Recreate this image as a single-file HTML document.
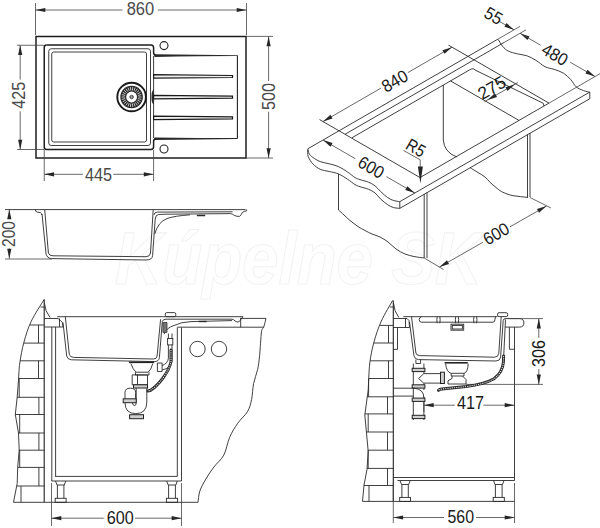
<!DOCTYPE html><html><head><meta charset="utf-8"><style>
*{margin:0;padding:0}
html,body{width:600px;height:528px;background:#fff;overflow:hidden}
svg{display:block}
.m{fill:none;stroke:#222;stroke-width:1.1}
.mb{fill:none;stroke:#1e1e1e;stroke-width:1.5}
.t{fill:none;stroke:#2a2a2a;stroke-width:0.9}
.d{fill:none;stroke:#444;stroke-width:0.8}
.hl{fill:none;stroke:#9a9a9a;stroke-width:0.8}
.wl{fill:none;stroke:#e8e8e8;stroke-width:0.8}
.hose{fill:none;stroke:#333;stroke-width:1.3;stroke-dasharray:1.2 0.6}
.ar{fill:#262626;stroke:none}
.groove{fill:#f0f0f0;stroke:#1a1a1a;stroke-width:1.25}
.fillk{fill:#2a2a2a;stroke:none}
.thk{fill:none;stroke:#222;stroke-width:1.6}
.fillk2b{fill:#777;stroke:#222;stroke-width:0.7}
.nut{fill:#cfcfcf;stroke:#222;stroke-width:1}
.hoseo{fill:none;stroke:#2a2a2a;stroke-width:3;stroke-linecap:round}
.hosei{fill:none;stroke:#ddd;stroke-width:1.1;stroke-dasharray:1.2 1}
.hose2{fill:none;stroke:#2a2a2a;stroke-width:0.9}
.fillk2{fill:#6a6a6a;stroke:#222;stroke-width:0.8}
.tx{font-family:"Liberation Sans",sans-serif;fill:#1a1a1a}
.tg{font-family:"Liberation Sans",sans-serif;fill:#4a4a4a}
</style></head><body><svg width="600" height="528" viewBox="0 0 600 528">
<text x="115" y="284" font-size="74" font-family="Liberation Sans" font-weight="bold" font-style="italic" fill="none" stroke="#f2f2f2" stroke-width="1.1" textLength="367" lengthAdjust="spacingAndGlyphs">Kúpelne SK</text>
<line class="d" x1="35.5" y1="3" x2="35.5" y2="35"/>
<line class="d" x1="246.5" y1="3" x2="246.5" y2="35"/>
<line class="d" x1="35.5" y1="10" x2="122.5" y2="10"/>
<line class="d" x1="157.9" y1="10" x2="246.5" y2="10"/>
<path class="ar" d="M35.5,10 L45.3,7.9 L45.3,12.1 Z"/>
<path class="ar" d="M246.5,10 L236.7,12.1 L236.7,7.9 Z"/>
<text class="tg" x="0" y="6.3" font-size="17.5" text-anchor="middle" transform="translate(140.45 9.15) rotate(0)" textLength="27.5" lengthAdjust="spacingAndGlyphs">860</text>
<path class="mb" d="M36,36.4 H246 V158 H36 Z"/>
<path class="mb" d="M46.5,45 H151 Q153.6,45 153.6,47.8 V52.5 Q153.6,55.4 156.5,55.4"/>
<path class="mb" d="M156.5,138.6 Q153.6,138.6 153.6,141.5 V146.8 Q153.6,149.5 151,149.5 H46.5 Q44.25,149.5 44.25,147 V47.5 Q44.25,45 46.5,45"/>
<path class="fillk" d="M154.5,54.2 Q200,54.6 237.4,55.3 L237.4,56.1 Q200,56.3 154.5,56.9 Z"/>
<path class="fillk" d="M154.5,137.4 Q200,137.9 237.4,138.1 L237.4,139 Q200,139.4 154.5,140.1 Z"/>
<line class="m" x1="237.4" y1="55.4" x2="237.4" y2="138.6"/>
<line class="t" x1="153.6" y1="56" x2="153.6" y2="138"/>
<path class="fillk" d="M153.8,89.5 Q151.2,91 151.5,97 Q151.2,103 153.8,104.5 Z"/>
<rect class="t" x="48.75" y="48.75" width="101.75" height="96.75" rx="2.5"/>
<rect class="t" x="51.75" y="52" width="94.75" height="90" rx="2"/>
<path class="groove" d="M153.6,74.7 L232.5,75.5 L232.5,77.5 L153.6,78.1 Z"/>
<path class="groove" d="M153.6,95.4 L232.5,96.2 L232.5,98.2 L153.6,98.8 Z"/>
<path class="groove" d="M153.6,116.1 L232.5,116.9 L232.5,118.9 L153.6,119.5 Z"/>
<circle class="m" cx="164" cy="45.6" r="4"/>
<circle class="m" cx="164" cy="149" r="4"/>
<circle cx="131.6" cy="97" r="14.3" fill="none" stroke="#1a1a1a" stroke-width="1.9"/>
<circle cx="131.6" cy="97" r="11.3" fill="#2a2a2a"/>
<circle cx="131.6" cy="97" r="5.4" fill="#fff"/>
<line class="wl" x1="138.2" y1="97" x2="141.6" y2="97"/>
<line class="wl" x1="138.01" y1="98.58" x2="141.31" y2="99.39"/>
<line class="wl" x1="137.44" y1="100.07" x2="140.45" y2="101.65"/>
<line class="wl" x1="136.54" y1="101.38" x2="139.09" y2="103.63"/>
<line class="wl" x1="135.35" y1="102.43" x2="137.28" y2="105.23"/>
<line class="wl" x1="133.94" y1="103.17" x2="135.15" y2="106.35"/>
<line class="wl" x1="132.4" y1="103.55" x2="132.81" y2="106.93"/>
<line class="wl" x1="130.8" y1="103.55" x2="130.39" y2="106.93"/>
<line class="wl" x1="129.26" y1="103.17" x2="128.05" y2="106.35"/>
<line class="wl" x1="127.85" y1="102.43" x2="125.92" y2="105.23"/>
<line class="wl" x1="126.66" y1="101.38" x2="124.11" y2="103.63"/>
<line class="wl" x1="125.76" y1="100.07" x2="122.75" y2="101.65"/>
<line class="wl" x1="125.19" y1="98.58" x2="121.89" y2="99.39"/>
<line class="wl" x1="125" y1="97" x2="121.6" y2="97"/>
<line class="wl" x1="125.19" y1="95.42" x2="121.89" y2="94.61"/>
<line class="wl" x1="125.76" y1="93.93" x2="122.75" y2="92.35"/>
<line class="wl" x1="126.66" y1="92.62" x2="124.11" y2="90.37"/>
<line class="wl" x1="127.85" y1="91.57" x2="125.92" y2="88.77"/>
<line class="wl" x1="129.26" y1="90.83" x2="128.05" y2="87.65"/>
<line class="wl" x1="130.8" y1="90.45" x2="130.39" y2="87.07"/>
<line class="wl" x1="132.4" y1="90.45" x2="132.81" y2="87.07"/>
<line class="wl" x1="133.94" y1="90.83" x2="135.15" y2="87.65"/>
<line class="wl" x1="135.35" y1="91.57" x2="137.28" y2="88.77"/>
<line class="wl" x1="136.54" y1="92.62" x2="139.09" y2="90.37"/>
<line class="wl" x1="137.44" y1="93.93" x2="140.45" y2="92.35"/>
<line class="wl" x1="138.01" y1="95.42" x2="141.31" y2="94.61"/>
<circle class="t" cx="131.6" cy="97" r="1.7"/>
<line class="t" x1="130" y1="97" x2="133.2" y2="97"/>
<line class="d" x1="17" y1="45.25" x2="44" y2="45.25"/>
<line class="d" x1="17" y1="149.5" x2="44" y2="149.5"/>
<line class="d" x1="20.2" y1="45.25" x2="20.2" y2="79.55"/>
<line class="d" x1="20.2" y1="111.25" x2="20.2" y2="149.5"/>
<path class="ar" d="M20.2,45.25 L22.3,55.05 L18.1,55.05 Z"/>
<path class="ar" d="M20.2,149.5 L18.1,139.7 L22.3,139.7 Z"/>
<text class="tg" x="0" y="6.3" font-size="17.5" text-anchor="middle" transform="translate(18.9 95.3) rotate(-90)" textLength="27" lengthAdjust="spacingAndGlyphs">425</text>
<line class="d" x1="246" y1="36.4" x2="273" y2="36.4"/>
<line class="d" x1="246" y1="158" x2="273" y2="158"/>
<line class="d" x1="268.6" y1="36.4" x2="268.6" y2="81"/>
<line class="d" x1="268.6" y1="111.7" x2="268.6" y2="158"/>
<path class="ar" d="M268.6,36.4 L270.7,46.2 L266.5,46.2 Z"/>
<path class="ar" d="M268.6,158 L266.5,148.2 L270.7,148.2 Z"/>
<text class="tg" x="0" y="6.3" font-size="17.5" text-anchor="middle" transform="translate(268.5 96.5) rotate(-90)" textLength="27" lengthAdjust="spacingAndGlyphs">500</text>
<line class="d" x1="44.25" y1="150" x2="44.25" y2="181"/>
<line class="d" x1="153.6" y1="150" x2="153.6" y2="181"/>
<line class="d" x1="44.25" y1="174.3" x2="82.85" y2="174.3"/>
<line class="d" x1="113.25" y1="174.3" x2="153.6" y2="174.3"/>
<path class="ar" d="M44.25,174.3 L54.05,172.2 L54.05,176.4 Z"/>
<path class="ar" d="M153.6,174.3 L143.8,176.4 L143.8,172.2 Z"/>
<text class="tg" x="0" y="6.3" font-size="17.5" text-anchor="middle" transform="translate(98.5 174.2) rotate(0)" textLength="27" lengthAdjust="spacingAndGlyphs">445</text>
<line class="t" x1="5" y1="209.6" x2="245.6" y2="209.6"/>
<line class="d" x1="5" y1="259" x2="52" y2="259"/>
<line class="d" x1="9.3" y1="209.5" x2="9.3" y2="219"/>
<line class="d" x1="9.3" y1="248.5" x2="9.3" y2="258.6"/>
<path class="ar" d="M9.3,209.5 L11.4,219.3 L7.2,219.3 Z"/>
<path class="ar" d="M9.3,258.6 L7.2,248.8 L11.4,248.8 Z"/>
<text class="tg" x="0" y="6.3" font-size="17.5" text-anchor="middle" transform="translate(9 234) rotate(-90)" textLength="26" lengthAdjust="spacingAndGlyphs">200</text>
<path class="t" d="M35.5,209.6 Q35,211.6 37.5,212.2 L40.5,212.6 Q41.6,213.2 41.8,215"/>
<path class="t" d="M42,214 L46,253.5 Q47,258.3 51.5,258.6 L146,260 Q152.2,260 152.6,255.6 L155.2,219 Q155.5,214.8 158.5,214.5 L166,214.2"/>
<path class="t" d="M44.7,209.6 L48.4,253 Q49.2,255.8 53,255.8 L146,256.7 Q150.1,256.7 150.5,253 L153.2,209.8"/>
<path class="t" d="M153.8,215 Q154.2,212.2 157.5,212.1 L232.6,211.8"/>
<path class="t" d="M166,214.2 L230.8,213.6 Q233,214.2 234.3,215.4 Q237,216.8 239.6,216.3 Q241.5,215 242.2,212.6 Q244,211 246.6,210.9 L246.6,209.6"/>
<path class="t" d="M154.7,234 Q158,222 167,218.5 Q174,216 190,214.8"/>
<path class="fillk" d="M196.7,214.8 L205.4,214.8 L205,216.3 L197.1,216.3 Z"/>
<path class="t" d="M44.2,299.4 C42.04,303.04 34.62,314.15 31.25,321.25 C27.88,328.35 25.91,335.04 24,342 C22.09,348.96 20.72,356.67 19.8,363 C18.88,369.33 18.72,377.17 18.5,380"/>
<polyline class="t" points="18.5,380 17.2,397 15.3,414.5 18.5,433 19.2,450 17.7,467.4 17.2,483.4 13.5,502.3"/>
<line class="m" x1="44.2" y1="299.4" x2="44.2" y2="502.3"/>
<line class="t" x1="29.94" y1="325" x2="44.2" y2="325"/>
<line class="t" x1="23.78" y1="343.1" x2="44.2" y2="343.1"/>
<line class="t" x1="20.24" y1="360.8" x2="44.2" y2="360.8"/>
<line class="t" x1="18.61" y1="378.5" x2="44.2" y2="378.5"/>
<line class="t" x1="17.17" y1="397.3" x2="44.2" y2="397.3"/>
<line class="t" x1="15.3" y1="414.5" x2="44.2" y2="414.5"/>
<line class="t" x1="18.5" y1="433" x2="44.2" y2="433"/>
<line class="t" x1="19.18" y1="450.2" x2="44.2" y2="450.2"/>
<line class="t" x1="17.7" y1="467.4" x2="44.2" y2="467.4"/>
<line class="t" x1="16.69" y1="486" x2="44.2" y2="486"/>
<line class="t" x1="38.5" y1="325" x2="38.5" y2="343.1"/>
<line class="t" x1="38.5" y1="360.8" x2="38.5" y2="378.5"/>
<line class="t" x1="19.2" y1="378.5" x2="19.2" y2="397.3"/>
<line class="t" x1="38.9" y1="397.3" x2="38.9" y2="414.5"/>
<line class="t" x1="19.7" y1="414.5" x2="19.7" y2="433"/>
<line class="t" x1="38.9" y1="433" x2="38.9" y2="450.2"/>
<line class="t" x1="19.7" y1="450.2" x2="19.7" y2="467.4"/>
<line class="t" x1="38.9" y1="467.4" x2="38.9" y2="486"/>
<line class="t" x1="21" y1="486" x2="21" y2="502.3"/>
<path class="t" d="M44.4,303 L46,310.5 L50,317.5"/>
<line class="t" x1="13.5" y1="502.3" x2="198" y2="502.3"/>
<line class="t" x1="51.8" y1="327" x2="51.8" y2="481"/>
<line class="t" x1="55.6" y1="327" x2="55.6" y2="476.4"/>
<line class="t" x1="177.3" y1="327.5" x2="177.3" y2="476.4"/>
<line class="t" x1="181.5" y1="327.5" x2="181.5" y2="481"/>
<line class="t" x1="55.2" y1="476.4" x2="177.3" y2="476.4"/>
<line class="t" x1="51.5" y1="481" x2="181.5" y2="481"/>
<path class="t" d="M55.5,481 L57,485 H64.3 L65.8,481"/>
<line class="t" x1="57.4" y1="485" x2="57.4" y2="498.3"/>
<line class="t" x1="63.9" y1="485" x2="63.9" y2="498.3"/>
<rect class="t" x="55.2" y="498.3" width="10.9" height="4"/>
<path class="t" d="M166.7,481 L168.2,485 H175.8 L177.3,481"/>
<line class="t" x1="168.6" y1="485" x2="168.6" y2="498.3"/>
<line class="t" x1="175.4" y1="485" x2="175.4" y2="498.3"/>
<rect class="t" x="166.4" y="498.3" width="11.2" height="4"/>
<line class="d" x1="51.5" y1="483" x2="51.5" y2="526"/>
<line class="d" x1="181.5" y1="483" x2="181.5" y2="526"/>
<line class="d" x1="51.5" y1="518.2" x2="103.75" y2="518.2"/>
<line class="d" x1="135" y1="518.2" x2="181.5" y2="518.2"/>
<path class="ar" d="M51.5,518.2 L61.3,516.1 L61.3,520.3 Z"/>
<path class="ar" d="M181.5,518.2 L171.7,520.3 L171.7,516.1 Z"/>
<text class="tx" x="0" y="6.3" font-size="17.5" text-anchor="middle" transform="translate(120.2 517.5) rotate(0)" textLength="27" lengthAdjust="spacingAndGlyphs">600</text>
<line class="t" x1="57.3" y1="316.7" x2="243" y2="316.7"/>
<path class="t" d="M44.2,318.5 H58 L60.5,320.5 L62.3,322.5 L63,327 H44.2"/>
<line class="t" x1="59.5" y1="318.5" x2="59.5" y2="327"/>
<line class="t" x1="40.6" y1="307" x2="44.2" y2="307"/>
<path class="t" d="M65.3,316.7 L69.3,354.3 Q70,357.3 73.5,357.4 L153.5,359 Q156.8,359 157.1,356 L160.6,319.2"/>
<path class="t" d="M63,322.5 L66.7,356 Q67.6,359.6 71.5,359.8 L154.5,361.6 Q158.9,361.6 159.4,357.5 L162.3,321.5 Q162.8,319.3 166,319.2 L232,319.2 Q234,319.5 235,321 Q237,322.6 239,321.8 Q240.5,320 241.5,318.5 L243,316.7"/>
<path class="t" d="M164.1,334.2 Q166,328 174,325.5 Q181,322 191,321.6 L232,320.6"/>
<path class="fillk" d="M198.7,320.8 H206.6 V322.2 H198.7 Z"/>
<rect class="t" x="165.3" y="312.6" width="10.5" height="4.1" rx="1.5"/>
<path class="fillk2b" d="M162.9,322.5 H167 V332.4 H162.9 Z"/>
<path class="t" d="M240,318.4 H266 M177.4,327.2 H263.7"/>
<line class="t" x1="240.7" y1="318.4" x2="240.7" y2="327.2"/>
<path class="t" d="M266,318.4 C265.62,319.87 264.45,324.97 263.7,327.2 C262.95,329.43 262.18,327.05 261.5,331.8 C260.82,336.55 260.25,349.4 259.6,355.7 C258.95,362 258.6,364.97 257.6,369.6 C256.6,374.23 254.6,378.53 253.6,383.5 C252.6,388.47 252.6,394.75 251.6,399.4 C250.6,404.05 249.92,407.42 247.6,411.4 C245.28,415.38 240.68,419 237.7,423.3 C234.72,427.6 232.02,431.9 229.7,437.2 C227.38,442.5 226.45,450.12 223.8,455.1 C221.15,460.08 216.78,463.12 213.8,467.1 C210.82,471.08 208.22,475.03 205.9,479 C203.58,482.97 201.22,487.02 199.9,490.9 C198.58,494.78 198.32,500.4 198,502.3"/>
<circle class="t" cx="197.5" cy="349" r="7.7"/>
<circle class="t" cx="219" cy="349" r="7.7"/>
<path class="t" d="M168.4,333.5 V338.5 M172,333.5 V338.5 M168.4,344.9 V358 Q168,363.5 162.1,365.5 M172,344.9 V360 Q171.5,368 162.1,370"/>
<rect class="t" x="167.6" y="338.5" width="5.2" height="6.4"/>
<path class="hoseo" d="M171,350 V362 Q169,370 163,378 Q157,386 150.7,390.3 L148,391"/>
<path class="hosei" d="M171,350 V362 Q169,370 163,378 Q157,386 150.7,390.3 L148,391"/>
<path class="t" d="M157.4,363 H162.1 V371.5 H157.4 Z"/>
<path class="thk" d="M128.9,362.3 H154.1"/>
<path class="t" d="M130.9,363.5 Q133,370 136.2,372.2 H148.2 Q151,370 152.8,363.5"/>
<path class="t" d="M135.5,372.2 V375 H149 V372.2"/>
<path class="t" d="M132.2,374.9 H147.5 V384.8 H132.2 Z M137.5,374.9 V384.8"/>
<rect class="nut" x="133.5" y="384.8" width="14" height="3.2"/>
<path class="t" d="M125,400 V392.5 Q125,388.2 130.3,388.2 Q135.6,388.2 135.6,392.5 V400"/>
<path class="t" d="M125,402.7 Q125,413.6 135.8,413.6 Q146.8,413.6 146.8,402 V388"/>
<path class="t" d="M132.5,402.7 Q132.5,405.5 134.5,405.5 Q136.2,405.5 136.2,402.7 V388"/>
<rect class="nut" x="123.2" y="398.8" width="13" height="3.9"/>
<rect class="nut" x="129.6" y="414.7" width="13.9" height="4"/>
<path class="t" d="M392.7,300.4 C390.79,303.88 384.37,314.32 381.25,321.25 C378.13,328.18 375.91,335.04 374,342 C372.09,348.96 370.77,355 369.8,363 C368.83,371 368.47,385.5 368.2,390"/>
<polyline class="t" points="368.2,390 364.8,415 366.5,433 368.2,451.4 367,469.5 364,485 362.5,501.4"/>
<line class="m" x1="393.3" y1="300.4" x2="393.3" y2="501.4"/>
<line class="t" x1="379.8" y1="325.4" x2="393.3" y2="325.4"/>
<line class="t" x1="373.8" y1="343" x2="393.3" y2="343"/>
<line class="t" x1="370.24" y1="360.8" x2="393.3" y2="360.8"/>
<line class="t" x1="368.88" y1="378.5" x2="393.3" y2="378.5"/>
<line class="t" x1="367.28" y1="396.8" x2="393.3" y2="396.8"/>
<line class="t" x1="364.95" y1="413.9" x2="393.3" y2="413.9"/>
<line class="t" x1="366.41" y1="432" x2="393.3" y2="432"/>
<line class="t" x1="368.09" y1="450.2" x2="393.3" y2="450.2"/>
<line class="t" x1="367.07" y1="468.4" x2="393.3" y2="468.4"/>
<line class="t" x1="363.95" y1="485.5" x2="393.3" y2="485.5"/>
<line class="t" x1="388.5" y1="325.4" x2="388.5" y2="343"/>
<line class="t" x1="388.5" y1="360.8" x2="388.5" y2="378.5"/>
<line class="t" x1="368.6" y1="378.5" x2="368.6" y2="396.8"/>
<line class="t" x1="387.5" y1="396.8" x2="387.5" y2="413.9"/>
<line class="t" x1="368.2" y1="413.9" x2="368.2" y2="432"/>
<line class="t" x1="387.5" y1="432" x2="387.5" y2="450.2"/>
<line class="t" x1="368.2" y1="450.2" x2="368.2" y2="468.4"/>
<line class="t" x1="387.5" y1="468.4" x2="387.5" y2="485.5"/>
<line class="t" x1="369" y1="485.5" x2="369" y2="501.4"/>
<path class="t" d="M393.5,303 L395,310.5 L398.8,317.5"/>
<line class="t" x1="362.5" y1="501.4" x2="515" y2="501.4"/>
<path class="t" d="M393.3,318.5 H407 L409,320.5 L409.5,327.5 H393.3"/>
<line class="t" x1="405.5" y1="318.5" x2="405.5" y2="327.5"/>
<line class="t" x1="389.8" y1="307" x2="393.3" y2="307"/>
<path class="t" d="M397.5,327.5 V349.4 H393.3"/>
<line class="t" x1="514.5" y1="327.1" x2="514.5" y2="480.5"/>
<path class="t" d="M509.4,327.1 V349.3 H514.5"/>
<path class="t" d="M505.1,318.6 H519.5 Q523.9,318.6 523.9,323 Q523.9,327.1 519.5,327.1 H505.1"/>
<line class="t" x1="393.3" y1="477.5" x2="514.5" y2="477.5"/>
<line class="t" x1="397.5" y1="480.5" x2="514.5" y2="480.5"/>
<path class="t" d="M400,480.5 L401.5,484.5 H408.7 L410.2,480.5"/>
<line class="t" x1="401.9" y1="484.5" x2="401.9" y2="497.4"/>
<line class="t" x1="408.3" y1="484.5" x2="408.3" y2="497.4"/>
<rect class="t" x="399.7" y="497.4" width="10.8" height="4"/>
<path class="t" d="M493.5,480.5 L495,484.5 H502.5 L504,480.5"/>
<line class="t" x1="495.4" y1="484.5" x2="495.4" y2="497.4"/>
<line class="t" x1="502.1" y1="484.5" x2="502.1" y2="497.4"/>
<rect class="t" x="493.2" y="497.4" width="11.1" height="4"/>
<line class="d" x1="393.3" y1="483" x2="393.3" y2="523"/>
<line class="d" x1="514.5" y1="483" x2="514.5" y2="523"/>
<line class="d" x1="393.3" y1="517.5" x2="444" y2="517.5"/>
<line class="d" x1="476" y1="517.5" x2="514.5" y2="517.5"/>
<path class="ar" d="M393.3,517.5 L403.1,515.4 L403.1,519.6 Z"/>
<path class="ar" d="M514.5,517.5 L504.7,519.6 L504.7,515.4 Z"/>
<text class="tx" x="0" y="6.3" font-size="17.5" text-anchor="middle" transform="translate(460.75 516.75) rotate(0)" textLength="26.5" lengthAdjust="spacingAndGlyphs">560</text>
<line class="d" x1="423.9" y1="401.5" x2="423.9" y2="412"/>
<line class="d" x1="423.9" y1="405.2" x2="454.9" y2="405.2"/>
<line class="d" x1="483.4" y1="405.2" x2="514.5" y2="405.2"/>
<text class="tx" x="0" y="6.3" font-size="17.5" text-anchor="middle" transform="translate(470.5 403.1) rotate(0)" textLength="27" lengthAdjust="spacingAndGlyphs">417</text>
<path class="ar" d="M423.9,405.2 L433.7,403.1 L433.7,407.3 Z"/>
<path class="ar" d="M514.5,405.2 L504.7,407.3 L504.7,403.1 Z"/>
<line class="d" x1="508.5" y1="318.6" x2="543" y2="318.6"/>
<line class="d" x1="466" y1="384.4" x2="543" y2="384.4"/>
<line class="d" x1="538.8" y1="318.6" x2="538.8" y2="337.9"/>
<line class="d" x1="538.8" y1="369.1" x2="538.8" y2="384.4"/>
<path class="ar" d="M538.8,318.6 L540.9,328.4 L536.7,328.4 Z"/>
<path class="ar" d="M538.8,384.4 L536.7,374.6 L540.9,374.6 Z"/>
<text class="tx" x="0" y="6.3" font-size="17.5" text-anchor="middle" transform="translate(539 353.5) rotate(-90)" textLength="27" lengthAdjust="spacingAndGlyphs">306</text>
<line class="t" x1="403.3" y1="316.7" x2="497.5" y2="316.7"/>
<rect class="t" x="497.5" y="312.7" width="10.2" height="3.9" rx="1.6"/>
<path class="t" d="M409.5,322 L413.9,355.5 Q414.6,359.5 418.5,359.6 L496,361 Q500.2,361 500.6,357 L503.2,320.5 Q503.6,318.6 505.3,318.6"/>
<path class="t" d="M411.5,316.7 L415.9,353 Q416.5,355.6 419.5,355.6 L494.5,357.2 Q498.4,357.2 498.8,353.3 L501.2,316.7"/>
<path class="t" d="M421.5,316.7 Q419.2,317.5 419.2,319.5 Q419.2,322.2 421.5,322.2 H493 Q494.9,322 494.9,319.8 L495.5,316.7"/>
<path class="t" d="M437.2,316.7 Q436.5,319.5 437.2,323.3 M439.8,316.7 Q440.5,319.5 439.8,323.3"/>
<path class="t" d="M455.7,316.7 Q455,319.5 455.7,323.3 M458.3,316.7 Q459,319.5 458.3,323.3"/>
<path class="t" d="M474,316.7 Q473.3,319.5 474,323.3 M476.6,316.7 Q477.3,319.5 476.6,323.3"/>
<rect class="t" x="451" y="324.2" width="12.7" height="6" />
<rect class="t" x="452.3" y="325.4" width="10.1" height="3.6" />
<line class="t" x1="505.5" y1="319.5" x2="503.6" y2="358"/>
<path class="hoseo" d="M503.6,356 L503.4,362 Q502.8,372 494,378.8 Q485,384 466,386.6 L442,389 Q438.3,389.6 438.5,390.4"/>
<path class="hosei" d="M503.6,356 L503.4,362 Q502.8,372 494,378.8 Q485,384 466,386.6 L442,389 Q438.3,389.6 438.5,390.4"/>
<path class="thk" d="M444.6,362.8 H467.8"/>
<path class="t" d="M445.6,363.6 Q446.5,372.5 451.2,373.3 H464 Q467.8,372.5 468.2,363.6"/>
<path class="t" d="M451.2,373.3 V376 H464 V373.3"/>
<path class="t" d="M452,376 V378.5 L448,380.8 V384 H466 V379.5 L462.5,376"/>
<path class="t" d="M415.9,359.6 V363.5 H420.6 V359.6"/>
<path class="t" d="M413.3,363.5 V420 M423.9,363.5 V373.6 L418.6,378.5 L423.9,383.3 V390 M423.9,397 V420"/>
<rect class="nut" x="412.2" y="368.3" width="12.7" height="3.3"/>
<rect class="nut" x="412.2" y="384.8" width="12.7" height="3.3"/>
<rect class="nut" x="412.2" y="398.1" width="12.7" height="3.3"/>
<rect class="nut" x="412.2" y="415.3" width="12.7" height="3.3"/>
<path class="t" d="M423.9,373.6 H440.5 M423.9,383.1 H440.5"/>
<rect class="nut" x="440.5" y="372.2" width="3.9" height="11.3"/>
<path class="t" d="M393.3,388.2 H414 Q423.9,389 423.9,398 M393.3,396.1 H413.3"/>
<line class="t" x1="308" y1="148.7" x2="498" y2="39.07"/>
<line class="d" x1="498" y1="39.07" x2="520" y2="26.38"/>
<line class="t" x1="345" y1="134.27" x2="504" y2="42.53"/>
<line class="d" x1="504" y1="42.53" x2="526" y2="29.84"/>
<path class="t" d="M352,137.74 L469.5,69.94 Q473.5,67.5 475,70 L543.3,103.3 L544,106"/>
<line class="t" x1="319.5" y1="119.56" x2="420" y2="177.55"/>
<line class="t" x1="420" y1="177.55" x2="549" y2="103.12"/>
<line class="d" x1="549" y1="103.12" x2="600" y2="73.69"/>
<line class="t" x1="448.5" y1="45.13" x2="549" y2="103.12"/>
<line class="t" x1="450.5" y1="80.9" x2="519" y2="120.43"/>
<line class="t" x1="399.8" y1="201.67" x2="589.8" y2="92.04"/>
<line class="t" x1="399.8" y1="208.37" x2="589.8" y2="98.74"/>
<line class="t" x1="399.8" y1="201.67" x2="399.8" y2="208.37"/>
<line class="t" x1="589.8" y1="92.04" x2="589.8" y2="98.74"/>
<path class="t" d="M307.7,148.8 C307.95,149.62 308.35,152.27 309.2,153.7 C310.05,155.13 310.97,156.08 312.8,157.4 C314.63,158.72 317.45,160.53 320.2,161.6 C322.95,162.67 326.25,162.97 329.3,163.8 C332.35,164.63 335.43,165.22 338.5,166.6 C341.57,167.98 344.95,170.27 347.7,172.1 C350.45,173.93 352.95,176.35 355,177.6 C357.05,178.85 357.78,178.85 360,179.6 C362.22,180.35 365.8,181.07 368.3,182.1 C370.8,183.13 372.92,184.2 375,185.8 C377.08,187.4 378.72,189.75 380.8,191.7 C382.88,193.65 385.42,196.05 387.5,197.5 C389.58,198.95 391.25,199.7 393.3,200.4 C395.35,201.1 398.72,201.48 399.8,201.7"/>
<path class="t" d="M307.7,149.5 C307.78,150.67 307.35,154.12 308.2,156.5 C309.05,158.88 310.8,161.67 312.8,163.8 C314.8,165.93 317.45,168.02 320.2,169.3 C322.95,170.58 326.25,170.73 329.3,171.5 C332.35,172.27 335.43,172.6 338.5,173.9 C341.57,175.2 344.95,177.52 347.7,179.3 C350.45,181.08 352.95,183.37 355,184.6 C357.05,185.83 357.78,185.93 360,186.7 C362.22,187.47 365.8,188.17 368.3,189.2 C370.8,190.23 372.92,191.23 375,192.9 C377.08,194.57 378.72,197.25 380.8,199.2 C382.88,201.15 385.42,203.22 387.5,204.6 C389.58,205.98 391.25,206.87 393.3,207.5 C395.35,208.13 398.72,208.25 399.8,208.4"/>
<path class="t" d="M498.3,39.6 C499.05,40.75 501.13,44.58 502.8,46.5 C504.47,48.42 505.85,49.87 508.3,51.1 C510.75,52.33 514.43,53.13 517.5,53.9 C520.57,54.67 523.63,54.63 526.7,55.7 C529.77,56.77 532.85,58.47 535.9,60.3 C538.95,62.13 541.95,65.18 545,66.7 C548.05,68.22 551.13,68.33 554.2,69.4 C557.27,70.47 560.65,71.42 563.4,73.1 C566.15,74.78 568.57,77.2 570.7,79.5 C572.83,81.8 574.05,85.05 576.2,86.9 C578.35,88.75 581.33,89.7 583.6,90.6 C585.87,91.5 588.77,92.02 589.8,92.3"/>
<line class="t" x1="338.5" y1="174" x2="338.5" y2="210"/>
<path class="t" d="M338.5,210 C339.42,210.83 342.08,213.25 344,215 C345.92,216.75 347.67,218.58 350,220.5 C352.33,222.42 355.5,224.83 358,226.5 C360.5,228.17 362.67,229.25 365,230.5 C367.33,231.75 369.5,232.92 372,234 C374.5,235.08 377.33,235.67 380,237 C382.67,238.33 385.33,240 388,242 C390.67,244 393.17,247 396,249 C398.83,251 402,252.75 405,254 C408,255.25 410.8,255.83 414,256.5 C417.2,257.17 422.5,257.75 424.2,258"/>
<line class="t" x1="424.2" y1="194" x2="424.2" y2="258"/>
<line class="t" x1="427" y1="192.4" x2="427" y2="258"/>
<path class="t" d="M443.3,85 V140 Q444,152 456.7,157"/>
<path class="t" d="M470.2,167.8 C471.5,168.58 475.53,170.97 478,172.5 C480.47,174.03 483,175.37 485,177 C487,178.63 488.17,180.55 490,182.3 C491.83,184.05 494.05,185.93 496,187.5 C497.95,189.07 499.37,190.45 501.7,191.7 C504.03,192.95 507.28,194.23 510,195 C512.72,195.77 515,195.88 518,196.3 C521,196.72 526.33,197.3 528,197.5"/>
<line class="t" x1="527.5" y1="134.5" x2="527.5" y2="197.5"/>
<line class="t" x1="530" y1="133" x2="530" y2="197"/>
<line class="d" x1="323" y1="121.58" x2="380.94" y2="88.15"/>
<line class="d" x1="407.8" y1="72.65" x2="452" y2="47.15"/>
<path class="ar" d="M323,121.58 L330.44,114.86 L332.54,118.5 Z"/>
<path class="ar" d="M452,47.15 L444.56,53.86 L442.46,50.23 Z"/>
<text class="tx" x="0" y="6.3" font-size="17.5" text-anchor="middle" transform="translate(394.6 80.8) rotate(-30)" textLength="27" lengthAdjust="spacingAndGlyphs">840</text>
<line class="d" x1="323" y1="140.04" x2="355.28" y2="158.67"/>
<line class="d" x1="386.46" y1="176.66" x2="414.8" y2="193.01"/>
<path class="ar" d="M323,140.04 L332.54,143.12 L330.44,146.76 Z"/>
<path class="ar" d="M414.8,193.01 L405.26,189.93 L407.36,186.3 Z"/>
<text class="tx" x="0" y="6.3" font-size="17.5" text-anchor="middle" transform="translate(371.25 167) rotate(30)" textLength="27" lengthAdjust="spacingAndGlyphs">600</text>
<line class="d" x1="499" y1="21.18" x2="514" y2="29.84"/>
<path class="ar" d="M514,29.84 L504.46,26.76 L506.56,23.12 Z"/>
<path class="ar" d="M520,33.3 L529.54,36.38 L527.44,40.02 Z"/>
<text class="tx" x="0" y="6.3" font-size="17.5" text-anchor="middle" transform="translate(493.75 15.6) rotate(30)" textLength="18" lengthAdjust="spacingAndGlyphs">55</text>
<line class="d" x1="520" y1="33.3" x2="540.74" y2="45.27"/>
<line class="d" x1="570.19" y1="62.26" x2="595" y2="76.57"/>
<text class="tx" x="0" y="6.3" font-size="17.5" text-anchor="middle" transform="translate(555.1 54.4) rotate(30)" textLength="27" lengthAdjust="spacingAndGlyphs">480</text>
<path class="ar" d="M595,76.57 L585.46,73.5 L587.56,69.86 Z"/>
<line class="d" x1="484.5" y1="101.7" x2="518" y2="82.5"/>
<path class="ar" d="M487.5,100 L494.94,93.28 L497.04,96.92 Z"/>
<path class="ar" d="M515,84.2 L507.56,90.92 L505.46,87.28 Z"/>
<text class="tx" x="0" y="6.3" font-size="17.5" text-anchor="middle" transform="translate(491.7 87.5) rotate(-30)">275</text>
<text class="tx" x="0" y="6.3" font-size="17.5" text-anchor="middle" transform="translate(416 147.6) rotate(30)" textLength="19" lengthAdjust="spacingAndGlyphs">R5</text>
<line class="d" x1="403.5" y1="150.5" x2="420.2" y2="159.8"/>
<line class="d" x1="420.2" y1="159.8" x2="420.2" y2="168"/>
<path class="ar" d="M420.4,183.4 L417.9,166.4 L422.9,166.4 Z"/>
<line class="d" x1="424.2" y1="258" x2="443.5" y2="269.5"/>
<line class="d" x1="530" y1="197.5" x2="551" y2="208"/>
<line class="d" x1="439.5" y1="267" x2="483.09" y2="242.15"/>
<line class="d" x1="510.02" y1="226.8" x2="546.5" y2="206"/>
<path class="ar" d="M439.5,267 L446.97,260.32 L449.05,263.97 Z"/>
<path class="ar" d="M546.5,206 L539.03,212.68 L536.95,209.03 Z"/>
<text class="tx" x="0" y="6.3" font-size="17.5" text-anchor="middle" transform="translate(496 233.5) rotate(-30)" textLength="27" lengthAdjust="spacingAndGlyphs">600</text>
</svg></body></html>
